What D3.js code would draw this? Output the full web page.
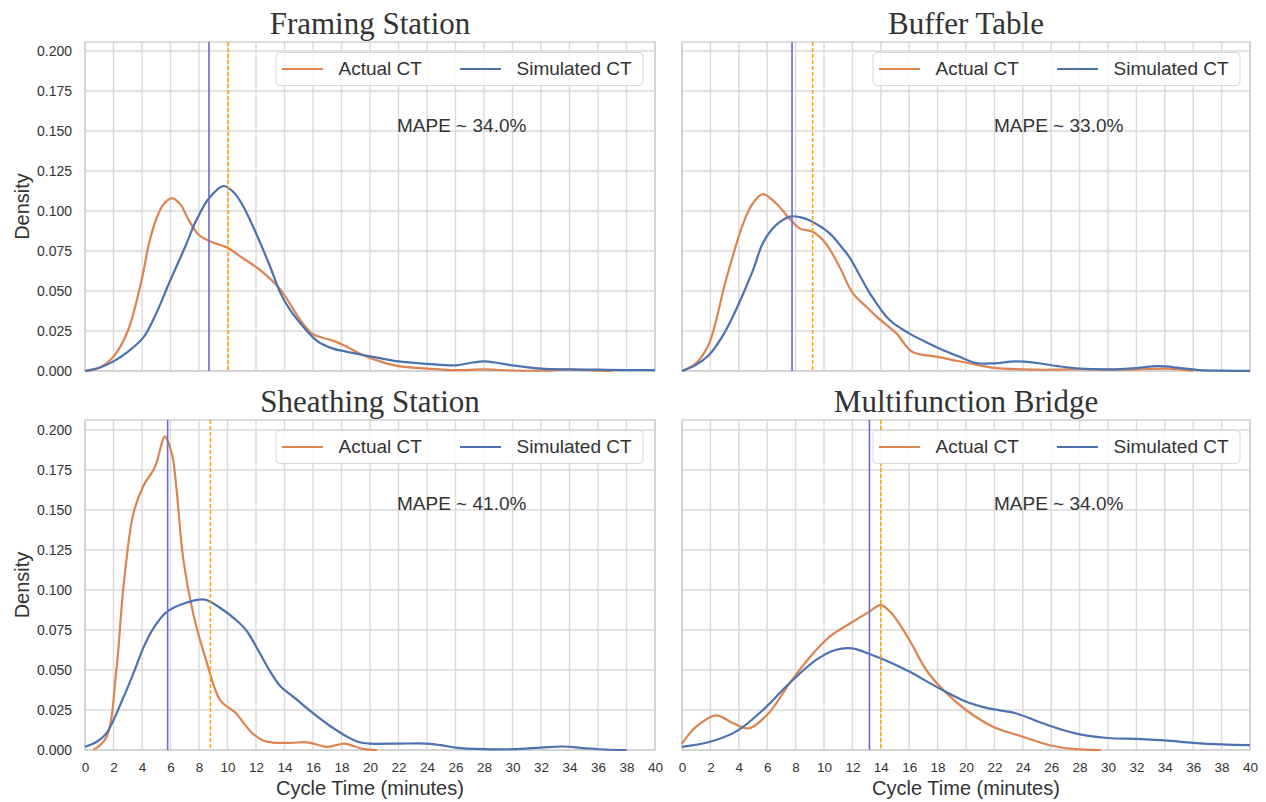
<!DOCTYPE html>
<html>
<head>
<meta charset="utf-8">
<script src="https://cdn.jsdelivr.net/npm/d3@7"></script>
<style>
  body { margin: 0; background: #fff; }
  text { font-family: "Liberation Sans", Arial, sans-serif; fill: #333; }
</style>
</head>
<body>
<svg width="1266" height="802"></svg>
<script>
// panel titles and stats
const titles = ["Framing Station", "Buffer Table", "Sheathing Station", "Multifunction Bridge"];
const mape = [34.0, 33.0, 41.0, 34.0];
const simMeans = [8.7, 7.75, 5.8, 13.2];
const actMeans = [10.06, 9.2, 8.8, 14.0];
const seriesNames = ["Actual CT", "Simulated CT"];
const xTickValues = d3.range(0, 41, 2);
const yTickValues = [0, 0.025, 0.05, 0.075, 0.1, 0.125, 0.15, 0.175, 0.2];

// density curves, [cycle time, density]
const framingActual = [[0,0],[1,0.002],[2,0.009],[3,0.025],[4,0.058],[4.5,0.08],[5,0.095],[5.5,0.104],[6.1,0.108],[6.7,0.104],[7.3,0.094],[8,0.085],[8.8,0.081],[10,0.077],[11,0.071],[12.3,0.063],[13.7,0.051],[15.1,0.032],[16,0.023],[17.4,0.019],[18.4,0.015],[19.5,0.01],[20.7,0.006],[22,0.003],[24,0.0015],[26,0.0005],[28,0.001],[30,0.0003],[32,0.0002],[34,0.001],[36,0.0002],[37,0]];
const framingSim = [[0,0],[1,0.002],[2,0.006],[3,0.012],[4.1,0.021],[5,0.036],[6,0.057],[7,0.077],[7.8,0.094],[8.7,0.108],[9.7,0.1156],[10.4,0.112],[11.1,0.103],[11.7,0.092],[12.3,0.08],[13,0.065],[13.7,0.049],[14.4,0.038],[15.1,0.03],[16,0.021],[16.5,0.0175],[17.4,0.014],[18.4,0.012],[19.5,0.01],[20.7,0.008],[22,0.006],[24,0.0045],[26,0.0035],[27,0.005],[28,0.006],[29,0.005],[30,0.0035],[32,0.0015],[34,0.001],[36,0.0008],[38,0.0006],[40,0.0005]];
const bufferActual = [[0,0],[1,0.005],[1.9,0.017],[3.1,0.057],[4.3,0.092],[5,0.105],[5.7,0.1106],[6.6,0.105],[7.6,0.095],[8.3,0.089],[9.2,0.087],[10.1,0.08],[11.1,0.065],[12,0.049],[13,0.04],[13.7,0.034],[15.1,0.0235],[16.2,0.012],[17.9,0.009],[19,0.007],[20.7,0.004],[22,0.002],[24,0.001],[26,0.0008],[28,0.0012],[30,0.0008],[32,0.001],[34,0.0015],[35,0.001],[36,0]];
const bufferSim = [[0,0],[1,0.004],[1.9,0.01],[3,0.024],[4,0.042],[5,0.063],[5.7,0.08],[6.6,0.091],[7.6,0.0965],[8.3,0.0962],[9,0.094],[10.4,0.086],[11.1,0.079],[11.8,0.071],[12.5,0.06],[13.2,0.049],[14.6,0.032],[16,0.0235],[17.2,0.018],[18.4,0.013],[19.5,0.009],[20.7,0.005],[22,0.0048],[23.5,0.006],[25,0.005],[26.5,0.003],[28,0.0015],[30,0.001],[32,0.0018],[33.5,0.003],[35,0.002],[36.5,0.0005],[38,0.0002],[40,0.0001]];
const sheathingActual = [[0.6,0],[1.5,0.008],[2.2,0.05],[2.7,0.102],[3.4,0.148],[4.1,0.165],[4.8,0.175],[5,0.179],[5.4,0.192],[5.6,0.196],[6.1,0.185],[6.4,0.165],[6.9,0.119],[7.6,0.085],[8.5,0.056],[9.5,0.031],[10.6,0.023],[11.2,0.016],[11.8,0.01],[12.5,0.006],[13.2,0.0046],[14.5,0.0045],[15.6,0.0048],[17,0.002],[18.2,0.004],[19,0.002],[19.6,0.0005],[20.5,0]];
const sheathingSim = [[0,0.002],[0.8,0.005],[1.5,0.0104],[2.7,0.033],[3.4,0.048],[4.1,0.064],[4.8,0.076],[5.7,0.086],[7.1,0.092],[8.4,0.094],[9.7,0.0875],[10.5,0.082],[11.3,0.075],[12.3,0.06],[13,0.049],[13.7,0.04],[14.8,0.032],[16,0.023],[17.2,0.015],[18.4,0.0083],[19.2,0.005],[20,0.004],[22,0.004],[24,0.004],[25,0.003],[26,0.0015],[28,0.0005],[30,0.0005],[32,0.0015],[33.5,0.0022],[35,0.0012],[36.5,0.0003],[38,0]];
const multiActual = [[0,0.004],[1,0.0146],[2.4,0.0217],[3.6,0.0167],[4.7,0.0135],[6.1,0.023],[7.6,0.042],[9,0.058],[10.4,0.0708],[12,0.08],[13.2,0.0865],[14,0.0906],[14.8,0.085],[16,0.069],[17.2,0.05],[18.4,0.0375],[20,0.025],[21.9,0.0146],[24,0.0083],[25.9,0.003],[27.7,0.0005],[29.5,0]];
const multiSim = [[0,0.002],[1.9,0.005],[3.8,0.0115],[5.7,0.025],[7.6,0.042],[9.4,0.056],[10.8,0.0625],[12,0.0635],[13.2,0.06],[14.6,0.055],[16,0.049],[17.9,0.0396],[19.8,0.031],[21.6,0.026],[23.5,0.023],[25.4,0.0167],[27.7,0.0104],[30,0.0075],[32,0.007],[34,0.006],[36,0.0045],[38,0.0035],[40,0.003]];

const actualCurves = [framingActual, bufferActual, sheathingActual, multiActual];
const simCurves = [framingSim, bufferSim, sheathingSim, multiSim];

const orange = "#dd8452", blue = "#4c72b0", gridColor = "#dadada";

const svg = d3.select("svg");
const cols = [[85, 655], [682, 1250]];
const rows = [[42, 371], [420, 750]];

titles.forEach(function (title, i) {
  let col = i % 2, row = Math.floor(i / 2);
  let [x0, x1] = cols[col], [y0, y1] = rows[row];

  let x = d3.scaleLinear().domain([0, 40]).range([x0, x1]);
  let y = d3.scaleLinear().domain([0, (y1 - y0) / 1600]).range([y1, y0]);

  let g = svg.append("g");

  // grid
  g.selectAll(".gx").data(xTickValues).enter().append("line")
    .attr("x1", d => x(d)).attr("x2", d => x(d))
    .attr("y1", y0).attr("y2", y1)
    .attr("stroke", gridColor).attr("stroke-width", 1.4);
  g.selectAll(".gy").data(yTickValues).enter().append("line")
    .attr("x1", x0).attr("x2", x1)
    .attr("y1", d => y(d)).attr("y2", d => y(d))
    .attr("stroke", gridColor).attr("stroke-width", 1.4);

  // frame
  g.append("rect")
    .attr("x", x0).attr("y", y0)
    .attr("width", x1 - x0).attr("height", y1 - y0)
    .attr("fill", "none").attr("stroke", "#cfcfcf").attr("stroke-width", 1.4);

  // ticks (only on outer panels)
  if (col === 0) {
    let yAxis = d3.axisLeft(y).tickValues(yTickValues).tickFormat(d3.format(".3f"))
      .tickSize(0).tickPadding(13);
    g.append("g").attr("transform", "translate(" + x0 + ",0)").call(yAxis)
      .call(a => a.select(".domain").remove())
      .selectAll("text").style("font-size", "14px").attr("fill", "#444")
      .style("font-family", "Liberation Sans, Arial, sans-serif");
    svg.append("text")
      .attr("transform", "translate(29," + ((y0 + y1) / 2) + ") rotate(-90)")
      .attr("text-anchor", "middle")
      .style("font-size", "20px")
      .text("Density");
  }
  if (row === 1) {
    let xAxis = d3.axisBottom(x).tickValues(xTickValues).tickSize(0).tickPadding(12);
    g.append("g").attr("transform", "translate(0," + y1 + ")").call(xAxis)
      .call(a => a.select(".domain").remove())
      .selectAll("text").style("font-size", "13.5px").attr("fill", "#444")
      .style("font-family", "Liberation Sans, Arial, sans-serif");
    svg.append("text")
      .attr("x", (x0 + x1) / 2).attr("y", 795)
      .attr("text-anchor", "middle")
      .style("font-size", "20px")
      .text("Cycle Time (minutes)");
  }

  // title
  svg.append("text")
    .attr("x", (x0 + x1) / 2).attr("y", y0 - 8)
    .attr("text-anchor", "middle")
    .style("font-family", "Liberation Serif, Times New Roman, serif")
    .style("font-size", "31px")
    .text(title);

  // curves
  let line = d3.line().x(d => x(d[0])).y(d => y(Math.max(0, d[1])))
    .curve(d3.curveCatmullRom.alpha(0.5));
  g.append("path").datum(actualCurves[i]).attr("d", line)
    .attr("fill", "none").attr("stroke", orange).attr("stroke-width", 2.2);
  g.append("path").datum(simCurves[i]).attr("d", line)
    .attr("fill", "none").attr("stroke", blue).attr("stroke-width", 2.2);

  // mean lines
  g.append("line")
    .attr("x1", x(simMeans[i])).attr("x2", x(simMeans[i]))
    .attr("y1", y0).attr("y2", y1)
    .attr("stroke", "#6a6ad0").attr("stroke-width", 1.6);
  g.append("line")
    .attr("x1", x(actMeans[i])).attr("x2", x(actMeans[i]))
    .attr("y1", y0).attr("y2", y1)
    .attr("stroke", "#ffa500").attr("stroke-width", 1.5)
    .attr("stroke-dasharray", "4,2");

  // legend
  let lg = g.append("g").attr("transform", "translate(" + (x0 + 191) + "," + (y0 + 10.5) + ")");
  lg.append("rect").attr("width", 367).attr("height", 33).attr("rx", 4)
    .attr("fill", "#fff").attr("fill-opacity", 0.85)
    .attr("stroke", "#d8d8d8").attr("stroke-width", 1);
  [orange, blue].forEach(function (c, k) {
    let lx = k === 0 ? 6 : 184;
    lg.append("line").attr("x1", lx).attr("x2", lx + 41)
      .attr("y1", 16.5).attr("y2", 16.5)
      .attr("stroke", c).attr("stroke-width", 2.2);
    lg.append("text").attr("x", lx + 56.5).attr("y", 22.5)
      .style("font-size", "19px").text(seriesNames[k]);
  });

  // MAPE annotation
  g.append("text")
    .attr("x", x0 + 312).attr("y", y0 + 90)
    .style("font-size", "19px")
    .text("MAPE ~ " + mape[i].toFixed(1) + "%");
});
</script>
</body>
</html>
